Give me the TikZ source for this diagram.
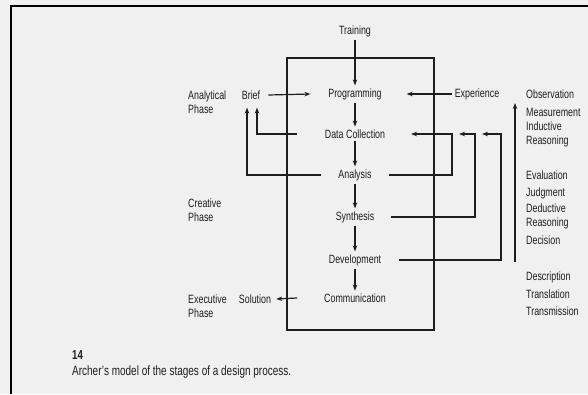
\documentclass[tikz,border=0pt]{standalone}
\usepackage{fontspec}
\setmainfont[FakeStretch=0.74]{Liberation Sans}
\usetikzlibrary{arrows.meta}
\definecolor{inkgray}{RGB}{30,30,30}
\definecolor{paper}{RGB}{240,240,240}

\begin{document}
\begin{tikzpicture}[x=1pt,y=-1pt,
    font=\fontsize{12}{14}\selectfont,text=inkgray,
    every node/.style={inner sep=0pt},
    stage/.style={outer sep=3pt},
    phase/.style={anchor=west,align=left},
    skill/.style={anchor=west,align=left},
    flow/.style={draw=inkgray,line width=1.2pt,-{Stealth[length=6pt,width=4.5pt]}},
    link/.style={draw=inkgray,line width=1.2pt}]
  \fill[paper] (0,0) rectangle (588,394);
  \useasboundingbox (0,0) rectangle (588,394);
  \draw[line width=2pt,black] (588,6) -- (11,6) -- (11,394);
  % the process box
  \draw[inkgray,line width=1.3pt] (287,58) rectangle (434,330);
  % stages
  \node[stage] (train) at (355,31) {Training};
  \node[stage] (prog) at (355,94) {Programming};
  \node[stage] (data) at (355,134) {Data Collection};
  \node[stage] (ana) at (355,175) {Analysis};
  \node[stage] (syn) at (355,217) {Synthesis};
  \node[stage] (dev) at (355,260) {Development};
  \node[stage] (comm) at (355,298) {Communication};
  \node (brief) at (251,95) {Brief};
  \node (sol) at (255,299) {Solution};
  \node (exp) at (477,94) {Experience};
  % phases
  \node[phase] (analytical) at (188,102) {Analytical\\Phase};
  \node[phase] (creative) at (188,210) {Creative\\Phase};
  \node[phase] (executive) at (188,306) {Executive\\Phase};
  % skills
  \node[skill] (obs) at (526,94) {Observation};
  \node[skill] (meas) at (526,112) {Measurement};
  \node[skill] (ind) at (526,134) {Inductive\\Reasoning};
  \node[skill] (eval) at (526,175) {Evaluation};
  \node[skill] (judg) at (526,193) {Judgment};
  \node[skill] (ded) at (526,216) {Deductive\\Reasoning};
  \node[skill] (dec) at (526,240) {Decision};
  \node[skill] (desc) at (526,277) {Description};
  \node[skill] (trans) at (526,294) {Translation};
  \node[skill] (transm) at (526,311) {Transmission};
  % caption
  \node[anchor=west,font=\fontsize{13}{15}\selectfont\bfseries] (fignum) at (72,355) {14};
  \node[anchor=west,font=\fontsize{13.5}{15}\selectfont] (caption) at (72,372) {Archer's model of the stages of a design process.};
  % main chain
  \draw[flow] (train) -- (prog);
  \foreach \a/\b in {prog/data,data/ana,ana/syn,syn/dev,dev/comm}
    \draw[flow] (\a) -- (\b);
  \draw[flow] ([xshift=8pt]brief.east) -- ([xshift=-15pt]prog.west);
  \draw[flow] ([xshift=-3pt]exp.west) -- ([xshift=22pt]prog.east);
  \draw[flow] ([xshift=-24pt]comm.west) -- ([xshift=5pt]sol.east);
  % feedback to brief
  \draw[flow] ([xshift=-25pt]data.west) -| ([xshift=6pt,yshift=-8pt]brief.south);
  \draw[flow] ([xshift=-14pt]ana.west) -| ([xshift=-4pt,yshift=-8pt]brief.south);
  % feedback to data collection
  \coordinate (loopa) at (452,134);
  \coordinate (loopb) at (475,134);
  \coordinate (loopc) at (501,134);
  \draw[flow] ([xshift=14pt]ana.east) -| (loopa) -- ++(-41,0);
  \draw[flow] ([xshift=14pt]syn.east) -| (loopb) -- ++(-16,0);
  \draw[flow] ([xshift=15pt]dev.east) -| (loopc) -- ++(-19,0);
  % reasoning scale
  \coordinate (scalelow) at (515,262);
  \coordinate (scaletop) at (515,103);
  \draw[flow] (scalelow) -- (scaletop);
\end{tikzpicture}
\end{document}
